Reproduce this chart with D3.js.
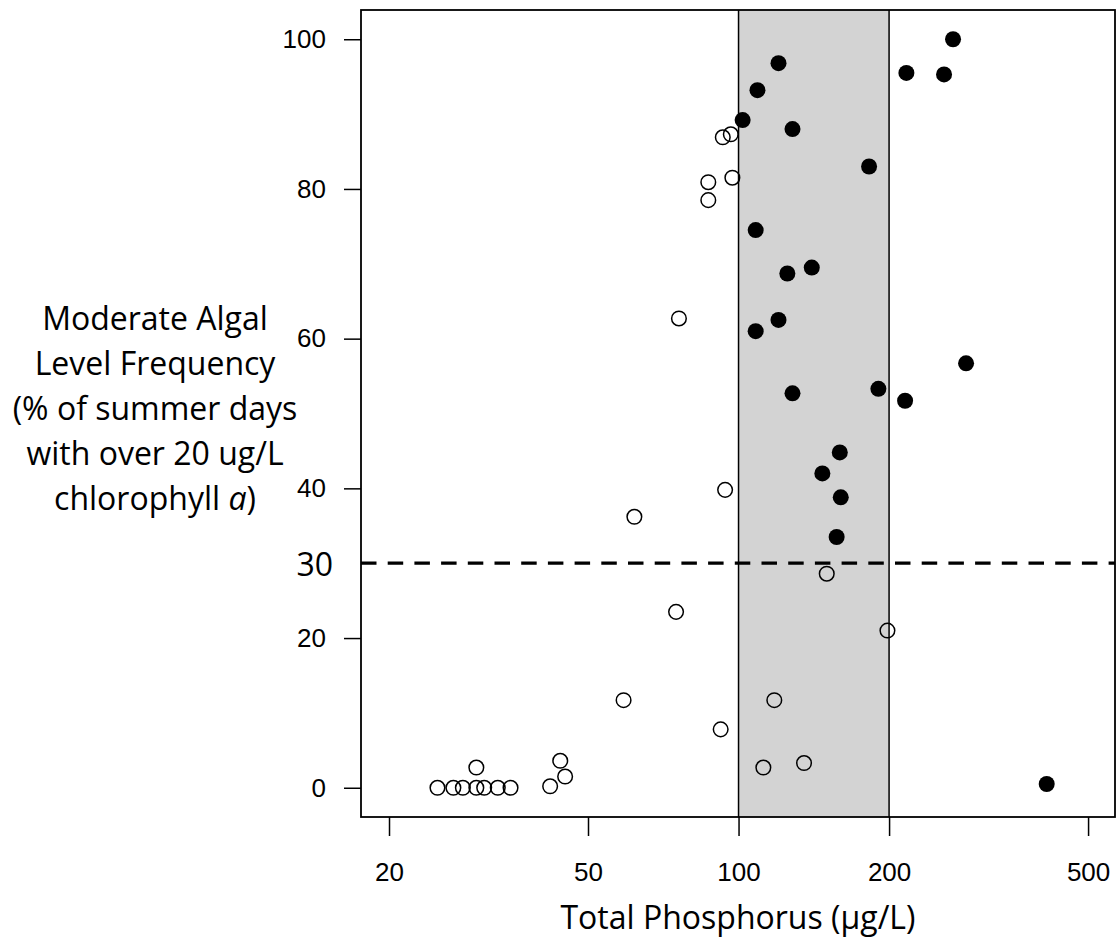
<!DOCTYPE html>
<html>
<head>
<meta charset="utf-8">
<script src="https://cdn.jsdelivr.net/npm/d3@7"></script>
<style>
    body { margin: 0; background: #fff; }
    svg { display: block; }
</style>
</head>
<body>
<div id="chart"></div>
<script>
// total phosphorus (ug/L) and % of summer days over 20 ug/L chlorophyll a
var openTP = [93.0, 96.5, 87.0, 87.0, 97.2, 76.0, 94.0, 61.9, 150.1, 75.0, 58.9, 92.1,
    29.9, 25.0, 26.9, 28.1, 29.9, 31.0, 33.0, 35.0, 42.0, 44.0, 45.0,
    198.5, 117.9, 112.1, 135.2];
var openFreq = [86.9, 87.3, 80.9, 78.5, 81.5, 62.7, 39.8, 36.2, 28.6, 23.5, 11.7, 7.8,
    2.7, 0, 0, 0, 0, 0, 0, 0, 0.2, 3.6, 1.5,
    21.0, 11.7, 2.7, 3.3];

var filledTP = [268.5, 216.6, 257.6, 120.2, 109.1, 101.9, 128.2, 182.4, 108.2, 125.2, 140.1,
    120.2, 108.2, 285.1, 128.2, 190.4, 215.3, 159.4, 147.1, 160.1, 157.1, 413.3];
var filledFreq = [100, 95.5, 95.3, 96.8, 93.2, 89.2, 88.0, 83.0, 74.5, 68.7, 69.5,
    62.5, 61.0, 56.7, 52.7, 53.3, 51.7, 44.8, 42.0, 38.8, 33.5, 0.5];

var xTicks = [20, 50, 100, 200, 500];
var yTicks = [0, 20, 40, 60, 80, 100];
var band = [100, 200];
var threshold = 30;

var yTitle = ["Moderate Algal", "Level Frequency", "(% of summer days", "with over 20 ug/L", "chlorophyll "];

var width = 1116;
var height = 939;
// plot box edges (don't use "top", it's window.top)
var boxL = 361, boxR = 1115, boxT = 10, boxB = 817;

var svg = d3.select("#chart").append("svg")
    .attr("width", width)
    .attr("height", height);

var xScale = d3.scaleLog()
    .domain([17.58, 566])
    .range([boxL, boxR]);

var yScale = d3.scaleLinear()
    .domain([-4, 104])
    .range([boxB + 0.7, boxT - 0.7]);

// grey band between 100 and 200
svg.append("rect")
    .attr("x", xScale(band[0]))
    .attr("y", boxT)
    .attr("width", xScale(band[1]) - xScale(band[0]))
    .attr("height", boxB - boxT)
    .style("fill", "#d3d3d3");

svg.selectAll(".bandline")
    .data(band)
    .enter().append("line")
    .attr("class", "bandline")
    .attr("x1", function(d) { return xScale(d); })
    .attr("x2", function(d) { return xScale(d); })
    .attr("y1", boxT)
    .attr("y2", boxB)
    .style("stroke", "#000")
    .style("stroke-width", 1.5);

// dashed threshold
svg.append("line")
    .attr("x1", boxL)
    .attr("x2", boxR)
    .attr("y1", yScale(threshold))
    .attr("y2", yScale(threshold))
    .style("stroke", "#000")
    .style("stroke-width", 3.3)
    .style("stroke-dasharray", "15.5,11.2");

// points
svg.selectAll(".open")
    .data(openTP)
    .enter().append("circle")
    .attr("class", "open")
    .attr("r", 7.3)
    .attr("cx", function(d) { return xScale(d); })
    .attr("cy", function(d, i) { return yScale(openFreq[i]); })
    .style("fill", "none")
    .style("stroke", "#000")
    .style("stroke-width", 1.5);

svg.selectAll(".filled")
    .data(filledTP)
    .enter().append("circle")
    .attr("class", "filled")
    .attr("r", 8)
    .attr("cx", function(d) { return xScale(d); })
    .attr("cy", function(d, i) { return yScale(filledFreq[i]); })
    .style("fill", "#000");

// box
svg.append("rect")
    .attr("x", boxL)
    .attr("y", boxT)
    .attr("width", boxR - boxL)
    .attr("height", boxB - boxT)
    .style("fill", "none")
    .style("stroke", "#000")
    .style("stroke-width", 1.8);

// axes
var xAxis = svg.append("g")
    .attr("transform", "translate(0," + boxB + ")")
    .call(d3.axisBottom(xScale).tickValues(xTicks).tickFormat(d3.format("d")).tickSize(19).tickPadding(27));

xAxis.select(".domain").remove();
xAxis.selectAll("line").style("stroke", "#000").style("stroke-width", 1.5);
xAxis.selectAll("text")
    .style("font-family", "'Liberation Sans', Arial, sans-serif")
    .style("font-size", "26px")
    .style("fill", "#000");

var yAxis = svg.append("g")
    .attr("transform", "translate(" + boxL + ",0)")
    .call(d3.axisLeft(yScale).tickValues(yTicks).tickSize(17).tickPadding(18));

yAxis.select(".domain").remove();
yAxis.selectAll("line").style("stroke", "#000").style("stroke-width", 1.5);
yAxis.selectAll("text")
    .style("font-family", "'Liberation Sans', Arial, sans-serif")
    .style("font-size", "26px")
    .style("fill", "#000");

// threshold label
svg.append("text")
    .attr("x", 333)
    .attr("y", yScale(threshold) + 12.5)
    .attr("text-anchor", "end")
    .style("font-family", "'Open Sans', sans-serif")
    .style("font-size", "32px")
    .text(threshold);

// titles
var yt = svg.append("text")
    .attr("text-anchor", "middle")
    .style("font-family", "'Open Sans', sans-serif")
    .style("font-size", "32px");

yTitle.forEach(function(line, i) {
    yt.append("tspan")
        .attr("x", 155)
        .attr("y", 330 + i * 45)
        .text(line);
    if (i == yTitle.length - 1) {
        yt.append("tspan").style("font-style", "italic").text("a");
        yt.append("tspan").text(")");
    }
});

svg.append("text")
    .attr("x", (boxL + boxR) / 2)
    .attr("y", 929)
    .attr("text-anchor", "middle")
    .style("font-family", "'Open Sans', sans-serif")
    .style("font-size", "32px")
    .text("Total Phosphorus (\u00b5g/L)");
</script>
</body>
</html>
